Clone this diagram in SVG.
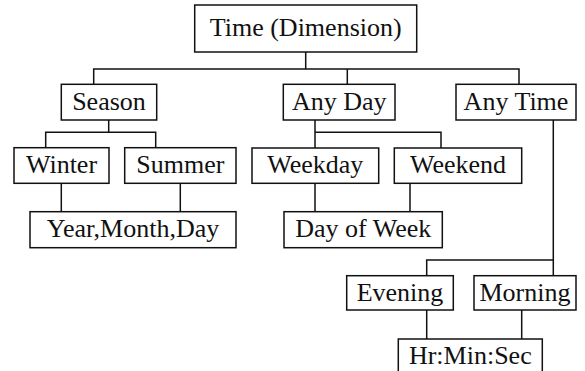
<svg xmlns="http://www.w3.org/2000/svg" width="585" height="371" viewBox="0 0 585 371">
<style>
rect{fill:#fff;stroke:#111;stroke-width:1.5}
text{font-family:"Liberation Serif","Times New Roman",serif;font-size:26px;fill:#111;text-anchor:middle}
.c path{fill:none;stroke:#111;stroke-width:1.5}
</style>
<rect x="0" y="0" width="585" height="371" style="stroke:none"/>
<g class="c" id="connectors">
<path d="M305.7 52V69M93.7 84.3V69H519V84.3M347.3 69V84.3"/>
<path d="M108.7 120V132.3M45.7 147.7V132.3H155.7V147.7"/>
<path d="M315 120V148M315 132.3H441V148"/>
<path d="M61.3 183.3V211.7M180.3 183.3V211.7"/>
<path d="M315 183.3V211.7M410 183.3V211.7"/>
<path d="M553.3 120V275.7M426.7 275.7V260H553.3"/>
<path d="M426.7 310V339M521.7 310V339"/>
</g>
<g id="time"><rect x="194.7" y="5" width="222" height="47"/><text x="305.7" y="36">Time (Dimension)</text></g>
<g id="season"><rect x="61.3" y="84.3" width="95.4" height="35.7"/><text x="109" y="110">Season</text></g>
<g id="anyday"><rect x="283.3" y="84.3" width="111.7" height="35.7"/><text x="339.2" y="110">Any Day</text></g>
<g id="anytime"><rect x="456" y="84.3" width="120" height="35.7"/><text x="516" y="110">Any Time</text></g>
<g id="winter"><rect x="14" y="147.7" width="95" height="35.6"/><text x="61.5" y="173.2">Winter</text></g>
<g id="summer"><rect x="124.7" y="147.7" width="111.3" height="35.6"/><text x="180.4" y="173.2">Summer</text></g>
<g id="weekday"><rect x="252" y="148" width="126.7" height="35.3"/><text x="315.3" y="173.2">Weekday</text></g>
<g id="weekend"><rect x="394.3" y="148" width="127.4" height="35.3"/><text x="458" y="173.2">Weekend</text></g>
<g id="ymd"><rect x="30" y="211.7" width="206" height="36"/><text x="133" y="236.5">Year,Month,Day</text></g>
<g id="dow"><rect x="284" y="211.7" width="158.3" height="36"/><text x="363.2" y="236.5">Day of Week</text></g>
<g id="evening"><rect x="346.7" y="275.7" width="106.6" height="34.3"/><text x="400" y="300.5">Evening</text></g>
<g id="morning"><rect x="474" y="275.7" width="102" height="34.3"/><text x="525" y="300.5">Morning</text></g>
<g id="hms"><rect x="398.3" y="339" width="144" height="40"/><text x="470.3" y="363.5">Hr:Min:Sec</text></g>
</svg>
